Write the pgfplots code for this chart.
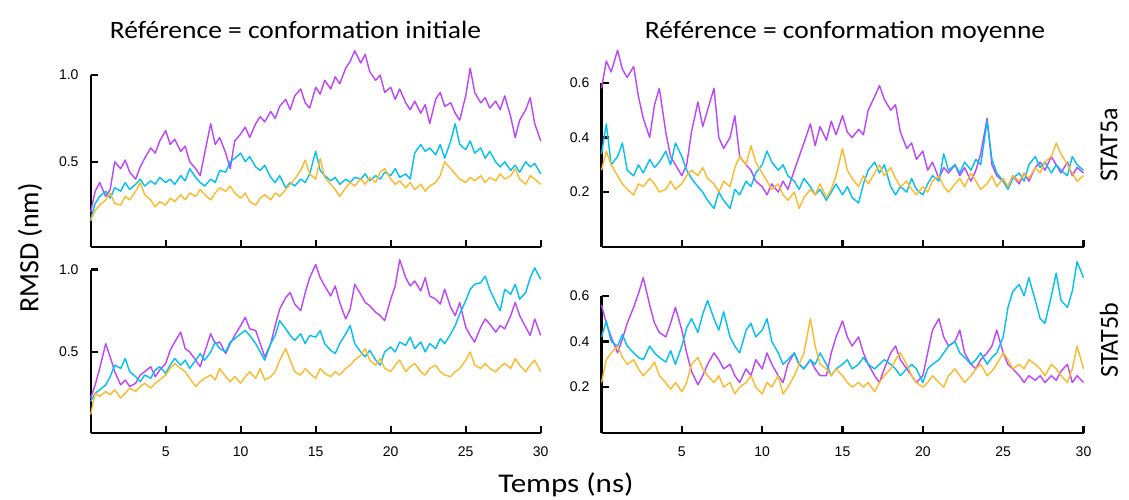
\documentclass[border=0pt]{standalone}
\usepackage{pgfplots}
\pgfplotsset{compat=1.18}
\usepackage{pgfplotstable}
\usepackage{fontspec}
\setmainfont{Carlito}
\newfontfamily\tickfont{Liberation Sans}
\definecolor{cpur}{HTML}{BB44FF}
\definecolor{ccya}{HTML}{00BFF3}
\definecolor{cora}{HTML}{FDB92A}

\pgfplotstableread{
t p c o
0.0 0.21 0.17 0.16
0.3 0.33 0.26 0.22
0.6 0.38 0.30 0.25
1.0 0.30 0.33 0.28
1.3 0.34 0.29 0.32
1.6 0.50 0.35 0.26
2.0 0.46 0.33 0.25
2.3 0.51 0.38 0.30
2.6 0.44 0.34 0.28
3.0 0.40 0.37 0.33
3.3 0.47 0.40 0.38
3.6 0.52 0.36 0.31
4.0 0.58 0.39 0.28
4.3 0.55 0.37 0.24
4.6 0.62 0.41 0.27
5.0 0.68 0.38 0.25
5.3 0.60 0.40 0.29
5.6 0.63 0.37 0.27
6.0 0.56 0.42 0.31
6.3 0.59 0.39 0.28
6.6 0.50 0.46 0.32
7.0 0.46 0.41 0.30
7.3 0.42 0.38 0.34
7.6 0.55 0.36 0.31
8.0 0.72 0.40 0.28
8.3 0.60 0.38 0.32
8.6 0.64 0.45 0.35
9.0 0.55 0.44 0.33
9.3 0.46 0.50 0.36
9.6 0.62 0.52 0.32
10.0 0.66 0.55 0.29
10.3 0.70 0.50 0.32
10.6 0.64 0.53 0.27
11.0 0.72 0.47 0.25
11.3 0.76 0.45 0.29
11.6 0.73 0.48 0.31
12.0 0.79 0.41 0.28
12.3 0.75 0.38 0.32
12.6 0.82 0.42 0.30
13.0 0.86 0.35 0.34
13.3 0.80 0.38 0.37
13.6 0.88 0.36 0.40
14.0 0.92 0.40 0.45
14.3 0.84 0.38 0.51
14.6 0.81 0.43 0.43
15.0 0.93 0.56 0.40
15.3 0.89 0.45 0.52
15.6 0.97 0.42 0.41
16.0 0.92 0.39 0.37
16.3 0.99 0.41 0.34
16.6 0.95 0.37 0.30
17.0 1.04 0.40 0.35
17.3 1.08 0.38 0.38
17.6 1.14 0.41 0.36
18.0 1.07 0.40 0.40
18.3 1.12 0.43 0.37
18.6 1.02 0.39 0.41
19.0 0.97 0.42 0.38
19.3 1.00 0.40 0.44
19.6 0.90 0.44 0.46
20.0 0.93 0.42 0.40
20.3 0.86 0.46 0.37
20.6 0.92 0.41 0.39
21.0 0.84 0.43 0.35
21.3 0.80 0.40 0.38
21.6 0.85 0.55 0.34
22.0 0.78 0.60 0.37
22.3 0.83 0.56 0.33
22.6 0.72 0.58 0.36
23.0 0.86 0.54 0.38
23.3 0.90 0.60 0.42
23.6 0.82 0.52 0.50
24.0 0.84 0.62 0.46
24.3 0.78 0.72 0.43
24.6 0.74 0.60 0.40
25.0 0.88 0.57 0.38
25.3 1.04 0.62 0.41
25.6 0.90 0.55 0.39
26.0 0.84 0.58 0.42
26.3 0.87 0.52 0.38
26.6 0.81 0.56 0.41
27.0 0.85 0.50 0.39
27.3 0.80 0.47 0.43
27.6 0.88 0.50 0.40
28.0 0.76 0.45 0.42
28.3 0.64 0.48 0.46
28.6 0.74 0.44 0.40
29.0 0.80 0.50 0.37
29.3 0.87 0.47 0.42
29.6 0.72 0.49 0.40
30.0 0.62 0.43 0.37
}\tabTL

\pgfplotstableread{
t p c o
0.0 0.58 0.34 0.28
0.3 0.68 0.45 0.35
0.6 0.64 0.30 0.30
1.0 0.72 0.33 0.26
1.3 0.65 0.38 0.23
1.6 0.62 0.28 0.21
2.0 0.66 0.26 0.19
2.3 0.55 0.30 0.23
2.6 0.47 0.27 0.22
3.0 0.40 0.32 0.25
3.3 0.52 0.29 0.23
3.6 0.58 0.31 0.20
4.0 0.42 0.35 0.21
4.3 0.33 0.30 0.24
4.6 0.30 0.38 0.21
5.0 0.26 0.33 0.23
5.3 0.30 0.28 0.26
5.6 0.42 0.25 0.28
6.0 0.53 0.22 0.26
6.3 0.44 0.20 0.29
6.6 0.50 0.17 0.25
7.0 0.58 0.14 0.23
7.3 0.40 0.20 0.20
7.6 0.36 0.17 0.24
8.0 0.40 0.14 0.22
8.3 0.48 0.21 0.29
8.6 0.33 0.19 0.33
9.0 0.30 0.24 0.30
9.3 0.28 0.22 0.37
9.6 0.24 0.27 0.31
10.0 0.22 0.30 0.27
10.3 0.19 0.35 0.24
10.6 0.23 0.31 0.21
11.0 0.20 0.28 0.23
11.3 0.24 0.30 0.19
11.6 0.21 0.26 0.17
12.0 0.28 0.24 0.20
12.3 0.33 0.21 0.14
12.6 0.38 0.25 0.18
13.0 0.45 0.22 0.21
13.3 0.37 0.19 0.19
13.6 0.44 0.21 0.23
14.0 0.39 0.17 0.18
14.3 0.46 0.20 0.21
14.6 0.41 0.23 0.26
15.0 0.48 0.19 0.36
15.3 0.42 0.22 0.28
15.6 0.40 0.18 0.25
16.0 0.43 0.16 0.22
16.3 0.41 0.23 0.26
16.6 0.50 0.28 0.23
17.0 0.55 0.31 0.27
17.3 0.59 0.27 0.30
17.6 0.54 0.30 0.26
18.0 0.50 0.22 0.29
18.3 0.52 0.19 0.25
18.6 0.42 0.22 0.22
19.0 0.36 0.20 0.24
19.3 0.38 0.25 0.21
19.6 0.32 0.21 0.19
20.0 0.35 0.19 0.22
20.3 0.28 0.23 0.20
20.6 0.31 0.26 0.24
21.0 0.25 0.24 0.26
21.3 0.29 0.34 0.22
21.6 0.27 0.28 0.20
22.0 0.30 0.30 0.23
22.3 0.26 0.27 0.25
22.6 0.29 0.31 0.22
23.0 0.24 0.28 0.27
23.3 0.28 0.32 0.24
23.6 0.34 0.30 0.21
24.0 0.47 0.46 0.23
24.3 0.30 0.32 0.26
24.6 0.26 0.27 0.22
25.0 0.24 0.24 0.25
25.3 0.22 0.21 0.22
25.6 0.26 0.25 0.26
26.0 0.23 0.27 0.24
26.3 0.27 0.24 0.27
26.6 0.24 0.30 0.25
27.0 0.29 0.33 0.29
27.3 0.31 0.29 0.27
27.6 0.28 0.31 0.31
28.0 0.33 0.27 0.33
28.3 0.30 0.30 0.38
28.6 0.27 0.28 0.34
29.0 0.31 0.26 0.30
29.3 0.26 0.33 0.27
29.6 0.29 0.30 0.24
30.0 0.27 0.28 0.26
}\tabTR

\pgfplotstableread{
t p c o
0.0 0.22 0.20 0.12
0.3 0.30 0.25 0.25
0.6 0.40 0.27 0.23
1.0 0.55 0.30 0.26
1.3 0.47 0.35 0.24
1.6 0.38 0.42 0.27
2.0 0.30 0.40 0.22
2.3 0.33 0.46 0.25
2.6 0.29 0.38 0.28
3.0 0.31 0.35 0.26
3.3 0.36 0.32 0.29
3.6 0.38 0.36 0.31
4.0 0.41 0.34 0.28
4.3 0.35 0.39 0.31
4.6 0.39 0.41 0.33
5.0 0.43 0.37 0.36
5.3 0.51 0.42 0.40
5.6 0.56 0.46 0.43
6.0 0.62 0.42 0.40
6.3 0.52 0.45 0.38
6.6 0.50 0.40 0.34
7.0 0.45 0.45 0.29
7.3 0.41 0.49 0.32
7.6 0.50 0.45 0.34
8.0 0.61 0.50 0.36
8.3 0.55 0.56 0.33
8.6 0.56 0.52 0.40
9.0 0.49 0.50 0.35
9.3 0.55 0.56 0.32
9.6 0.60 0.58 0.35
10.0 0.66 0.61 0.31
10.3 0.71 0.63 0.35
10.6 0.64 0.60 0.38
11.0 0.63 0.55 0.34
11.3 0.55 0.50 0.40
11.6 0.47 0.45 0.33
12.0 0.55 0.55 0.35
12.3 0.66 0.60 0.38
12.6 0.76 0.69 0.45
13.0 0.83 0.64 0.52
13.3 0.86 0.60 0.45
13.6 0.79 0.57 0.38
14.0 0.75 0.61 0.36
14.3 0.86 0.55 0.40
14.6 0.95 0.60 0.37
15.0 1.03 0.59 0.34
15.3 0.95 0.63 0.40
15.6 0.90 0.55 0.37
16.0 0.84 0.51 0.35
16.3 0.90 0.49 0.38
16.6 0.80 0.55 0.36
17.0 0.70 0.61 0.40
17.3 0.76 0.66 0.42
17.6 0.91 0.55 0.45
18.0 0.85 0.50 0.48
18.3 0.80 0.47 0.52
18.6 0.78 0.51 0.45
19.0 0.74 0.45 0.42
19.3 0.72 0.42 0.46
19.6 0.69 0.50 0.40
20.0 0.82 0.53 0.38
20.3 0.90 0.50 0.42
20.6 1.06 0.56 0.45
21.0 0.95 0.54 0.38
21.3 0.90 0.59 0.41
21.6 0.93 0.52 0.43
22.0 0.87 0.56 0.38
22.3 0.95 0.50 0.36
22.6 0.84 0.55 0.40
23.0 0.82 0.52 0.42
23.3 0.79 0.58 0.38
23.6 0.88 0.55 0.36
24.0 0.77 0.61 0.35
24.3 0.72 0.66 0.38
24.6 0.80 0.73 0.40
25.0 0.65 0.81 0.45
25.3 0.60 0.88 0.50
25.6 0.56 0.91 0.42
26.0 0.65 0.92 0.40
26.3 0.70 0.96 0.43
26.6 0.67 0.88 0.40
27.0 0.62 0.80 0.38
27.3 0.66 0.75 0.41
27.6 0.64 0.88 0.43
28.0 0.72 0.85 0.40
28.3 0.80 0.91 0.46
28.6 0.72 0.82 0.42
29.0 0.65 0.86 0.38
29.3 0.60 0.95 0.42
29.6 0.70 1.01 0.45
30.0 0.60 0.94 0.38
}\tabBL

\pgfplotstableread{
t p c o
0.0 0.56 0.42 0.22
0.3 0.48 0.49 0.32
0.6 0.42 0.40 0.35
1.0 0.35 0.38 0.38
1.3 0.41 0.43 0.33
1.6 0.48 0.38 0.30
2.0 0.55 0.35 0.32
2.3 0.61 0.33 0.28
2.6 0.68 0.32 0.25
3.0 0.56 0.38 0.28
3.3 0.48 0.35 0.31
3.6 0.44 0.33 0.25
4.0 0.42 0.31 0.22
4.3 0.48 0.36 0.19
4.6 0.55 0.30 0.22
5.0 0.45 0.38 0.18
5.3 0.35 0.46 0.22
5.6 0.27 0.50 0.30
6.0 0.21 0.44 0.33
6.3 0.25 0.52 0.28
6.6 0.30 0.58 0.25
7.0 0.35 0.50 0.22
7.3 0.32 0.45 0.25
7.6 0.28 0.53 0.20
8.0 0.30 0.42 0.22
8.3 0.25 0.38 0.17
8.6 0.22 0.35 0.20
9.0 0.28 0.45 0.22
9.3 0.25 0.48 0.25
9.6 0.32 0.42 0.20
10.0 0.28 0.45 0.17
10.3 0.35 0.50 0.22
10.6 0.30 0.40 0.20
11.0 0.25 0.35 0.25
11.3 0.22 0.30 0.17
11.6 0.30 0.32 0.20
12.0 0.35 0.35 0.25
12.3 0.30 0.30 0.30
12.6 0.28 0.28 0.35
13.0 0.32 0.32 0.50
13.3 0.28 0.30 0.38
13.6 0.25 0.35 0.30
14.0 0.25 0.30 0.28
14.3 0.35 0.25 0.25
14.6 0.42 0.28 0.28
15.0 0.49 0.30 0.25
15.3 0.42 0.32 0.22
15.6 0.38 0.28 0.20
16.0 0.42 0.30 0.22
16.3 0.35 0.33 0.20
16.6 0.30 0.30 0.22
17.0 0.25 0.28 0.18
17.3 0.22 0.30 0.22
17.6 0.28 0.32 0.25
18.0 0.35 0.30 0.28
18.3 0.38 0.28 0.32
18.6 0.32 0.25 0.35
19.0 0.28 0.28 0.30
19.3 0.25 0.30 0.25
19.6 0.22 0.28 0.22
20.0 0.25 0.22 0.20
20.3 0.35 0.28 0.22
20.6 0.45 0.30 0.25
21.0 0.50 0.32 0.22
21.3 0.42 0.35 0.20
21.6 0.38 0.38 0.25
22.0 0.40 0.40 0.28
22.3 0.45 0.35 0.25
22.6 0.35 0.33 0.22
23.0 0.30 0.30 0.25
23.3 0.28 0.32 0.28
23.6 0.32 0.35 0.30
24.0 0.35 0.30 0.25
24.3 0.38 0.33 0.27
24.6 0.45 0.35 0.30
25.0 0.35 0.42 0.35
25.3 0.30 0.55 0.32
25.6 0.28 0.62 0.28
26.0 0.25 0.65 0.30
26.3 0.22 0.60 0.28
26.6 0.25 0.68 0.32
27.0 0.23 0.58 0.30
27.3 0.25 0.50 0.28
27.6 0.22 0.48 0.25
28.0 0.25 0.60 0.30
28.3 0.23 0.70 0.28
28.6 0.27 0.58 0.25
29.0 0.30 0.55 0.22
29.3 0.22 0.62 0.28
29.6 0.25 0.75 0.38
30.0 0.22 0.68 0.28
}\tabBR

\pgfplotsset{
  panel/.style={
    scale only axis, anchor=south west,
    xmin=0, xmax=30, clip=false,
    axis x line*=bottom, axis y line*=left,
    tick align=inside,
    major tick length=7pt,
    xtick={5,10,15,20,25,30},
    ticklabel style={font=\tickfont\fontsize{14}{16}\selectfont, inner sep=0pt},
    xticklabel style={yshift=-14pt},
    yticklabel style={xshift=-12pt},
    every axis plot/.append style={line width=1.4pt, mark=none, line join=round},
  },
}

\begin{document}
\begin{tikzpicture}
\useasboundingbox (0,0) rectangle (1129pt,500pt);

% top-left
\begin{axis}[panel, at={(90.7pt,253.3pt)}, width=450pt, height=171.6pt,
  ymin=0.01, ymax=1.0, ytick={0.5,1.0}, yticklabels={0.5,1.0}, xticklabels={},
  axis line style={line width=2.2pt, draw=black!99}, tick style={line width=2.2pt, draw=black!99}]
\addplot[cpur] table[x=t,y=p] {\tabTL};
\addplot[ccya] table[x=t,y=c] {\tabTL};
\addplot[cora] table[x=t,y=o] {\tabTL};
\end{axis}

% top-right
\begin{axis}[panel, at={(601.5pt,253.3pt)}, width=482pt, height=163.8pt,
  ymin=0, ymax=0.6, ytick={0.2,0.4,0.6}, yticklabels={0.2,0.4,0.6}, xticklabels={},
  axis line style={line width=2.2pt, draw=black!99}, tick style={line width=2.2pt, draw=black!99}]
\addplot[cpur] table[x=t,y=p] {\tabTR};
\addplot[ccya] table[x=t,y=c] {\tabTR};
\addplot[cora] table[x=t,y=o] {\tabTR};
\end{axis}

% bottom-left
\begin{axis}[panel, at={(90.7pt,67.3pt)}, width=450pt, height=163.2pt,
  ymin=0.01, ymax=1.0, ytick={0.5,1.0}, yticklabels={0.5,1.0},
  xticklabels={5,10,15,20,25,30},
  axis line style={line width=2.2pt, draw=black!99}, tick style={line width=2.2pt, draw=black!99}]
\addplot[cpur] table[x=t,y=p] {\tabBL};
\addplot[ccya] table[x=t,y=c] {\tabBL};
\addplot[cora] table[x=t,y=o] {\tabBL};
\end{axis}

% bottom-right
\begin{axis}[panel, at={(601.5pt,67.3pt)}, width=482pt, height=136.8pt,
  ymin=0, ymax=0.6, ytick={0.2,0.4,0.6}, yticklabels={0.2,0.4,0.6},
  xticklabels={5,10,15,20,25,30},
  axis line style={line width=2.2pt, draw=black!99}, tick style={line width=2.2pt, draw=black!99}]
\addplot[cpur] table[x=t,y=p] {\tabBR};
\addplot[ccya] table[x=t,y=c] {\tabBR};
\addplot[cora] table[x=t,y=o] {\tabBR};
\end{axis}

\node[anchor=base, xscale=1.1, font=\fontsize{25}{30}\selectfont] at (295.5pt,461pt) {Référence = conformation initiale};
\node[anchor=base, xscale=1.1, font=\fontsize{25}{30}\selectfont] at (845pt,461pt) {Référence = conformation moyenne};
\node[rotate=90, font=\fontsize{28}{30}\selectfont] at (30pt,252pt) {RMSD (nm)};
\node[anchor=base, xscale=1.15, font=\fontsize{27}{30}\selectfont] at (566pt,7pt) {Temps (ns)};
\node[rotate=90, font=\fontsize{26}{30}\selectfont] at (1109pt,355pt) {STAT5a};
\node[rotate=90, font=\fontsize{26}{30}\selectfont] at (1109pt,160pt) {STAT5b};
\end{tikzpicture}
\end{document}
